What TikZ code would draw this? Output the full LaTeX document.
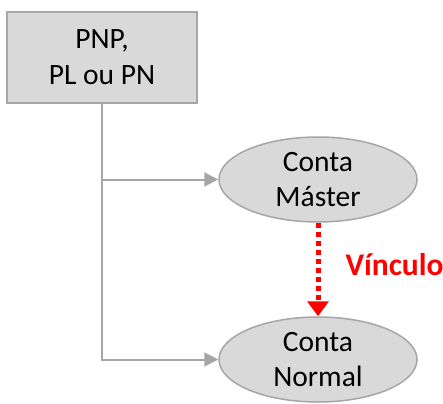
\documentclass[tikz,border=0pt]{standalone}
\usepackage{fontspec}
\setmainfont{Carlito}
\usepackage{tikz}
\usetikzlibrary{arrows.meta,shapes.geometric,positioning}
\definecolor{boxfill}{RGB}{217,217,217}
\definecolor{boxline}{RGB}{166,166,166}
\definecolor{linkred}{RGB}{255,0,0}

\tikzset{
  origem/.style={rectangle,draw=boxline,fill=boxfill,line width=1.5pt,
    minimum width=190pt,minimum height=91pt,inner sep=0pt,align=center,
    font=\fontsize{29.5}{36}\selectfont},
  conta/.style={ellipse,draw=boxline,fill=boxfill,line width=1.5pt,
    minimum width=198pt,minimum height=85pt,inner sep=0pt,align=center,
    font=\fontsize{29.5}{35}\selectfont},
  ramo/.style={draw=boxline,line width=2pt,-{Triangle[length=14pt,width=14pt]}},
  vinculo/.style={draw=linkred,line width=5pt,dash pattern=on 5pt off 4pt,
    -{Triangle[length=15pt,width=21pt]}}
}

\begin{document}
\begin{tikzpicture}[x=1pt,y=-1pt]
\useasboundingbox (0,0) rectangle (443,403);
\node[origem] (pnp) at (102,57.5) {PNP,\\PL ou PN};
\node[conta] (master) at (318,179.5) {Conta\\Máster};
\node[conta] (normal) at (318,359.5) {Conta\\Normal};
\coordinate (tronco) at (pnp.south |- normal.west);

\draw[ramo] (pnp.south) -- (tronco) -- (normal.west);
\draw[ramo] (pnp.south |- master.west) -- (master.west);
\draw[vinculo] (master.south) -- (normal.north)
  node[pos=0.45,right=25pt,inner sep=0pt,text=linkred,font=\fontsize{31.5}{32}\selectfont\bfseries] (rotulo) {Vínculo};
\end{tikzpicture}
\end{document}
